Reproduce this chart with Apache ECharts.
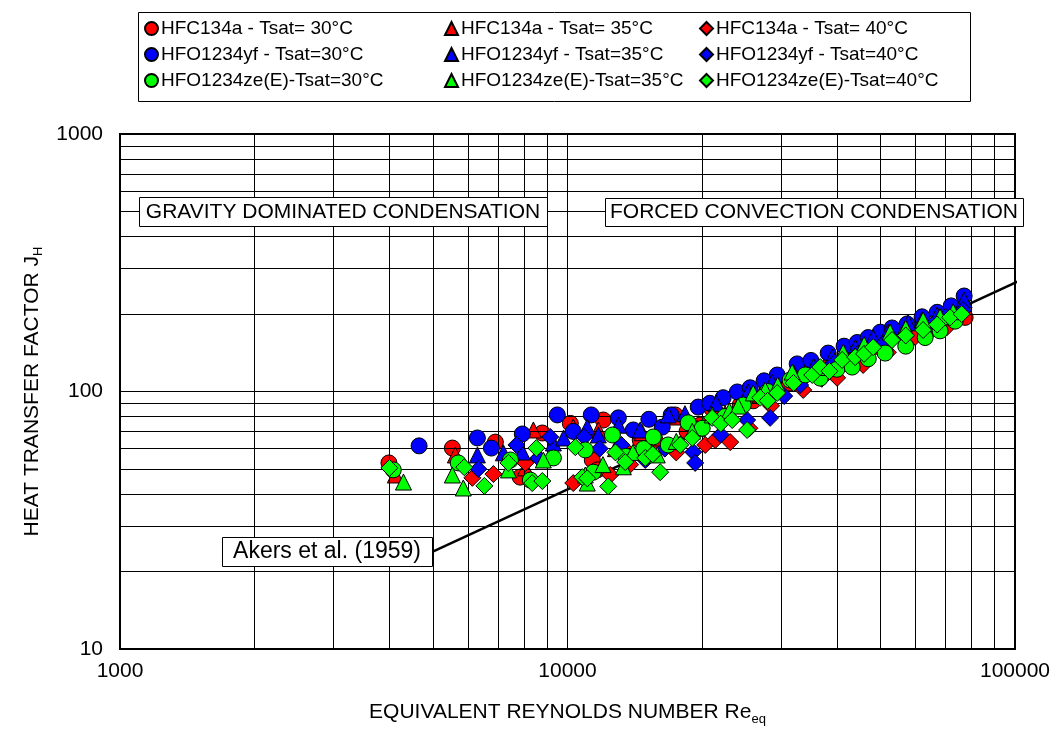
<!DOCTYPE html>
<html><head><meta charset="utf-8">
<script src="https://cdn.jsdelivr.net/npm/echarts@6/dist/echarts.min.js"></script>
<style>html,body{margin:0;padding:0;background:#fff}#c{width:1057px;height:738px}</style>
</head><body><div id="c"></div>
<script>
// ---------- tick / grid values ----------
const xMinor = [2000,3000,4000,5000,6000,7000,8000,9000,20000,30000,40000,50000,60000,70000,80000,90000];
const yMinor = [20,30,40,50,60,70,80,90,200,300,400,500,600,700,800,900];

// ---------- data [Re_eq, J_H] ----------
const r134a30 = [[3990,52.8],[5530,60.3],[6900,63.6],[7840,46.5],[8785,69],[10146,75.2],[11360,54.2],[12020,77.5],[11660,49.6],[13500,58],[14540,64.8],[15800,62],[17400,81.1],[18500,70],[19800,74.1],[21050,85.5],[22500,80],[24318,88.6],[26000,92],[29870,101],[33000,110],[38630,126.8],[43000,135],[51270,151.6],[58000,160],[63000,170],[68025,181],[77370,194]];
const r134a35 = [[4124,47.4],[5616,56.7],[8051,50.5],[8390,70.9],[10300,72.7],[11720,70.9],[12800,60],[14690,69.2],[16000,66],[17220,79.6],[19500,72],[22500,82],[26950,96.9],[30500,108],[34855,119],[38000,124],[45080,142],[50000,150],[59830,170],[64000,178],[71617,194]];
const r134a40 = [[6130,46.2],[6830,47.8],[8051,52.8],[10300,44.1],[12460,47.4],[13800,52],[15070,55.2],[17500,58],[20315,62],[21380,64.8],[23100,63.6],[25500,72],[28500,88],[33630,101.4],[34500,129],[37000,112],[40040,113],[45780,126.8],[52000,142],[59830,163],[64000,168],[70530,178]];
const yf30 = [[4660,61.5],[6290,66],[6760,60.3],[7925,68.4],[9490,81.1],[10300,70],[11300,81.1],[12990,79],[14030,70.9],[15200,78],[16280,72.7],[17050,81.1],[19590,87],[20800,90],[22280,94.6],[23960,99.6],[25600,103.4],[27500,110],[29420,115.9],[32600,128],[35000,132],[38240,141],[41500,150],[44400,155],[46970,162],[50000,170],[53130,176.5],[57420,183],[62000,195],[67000,203],[72000,215],[76980,234.9]];
const yf35 = [[6290,56.7],[7190,57.8],[7925,58.2],[9300,63.1],[9800,66],[11070,72.7],[11720,67.8],[13000,74],[14540,70.9],[16790,81.1],[18300,82],[21500,90],[25340,99.6],[28660,108.8],[32000,118],[35500,125],[39050,136],[44000,148],[48200,162],[52000,170],[57720,185],[62000,190],[67000,198],[76980,226.7]];
const yf40 = [[6320,50],[7690,62],[8610,55.2],[9150,66.6],[10900,66.6],[11800,60],[13200,62],[14920,54.2],[16500,60],[19100,58.2],[19290,52.8],[22000,68],[25200,77.5],[28370,79],[30500,96],[33100,106],[36000,118],[39640,130],[44500,140],[50500,152],[56200,162],[65300,181],[70000,195],[76570,207]];
const ze30 = [[4080,49.6],[5700,52.8],[7455,54.2],[8260,45.3],[9300,55.2],[10960,59.3],[11420,48.6],[12600,67.8],[13500,56],[14800,60],[15550,66.6],[16790,62],[18610,75.6],[20000,72],[22500,80],[24700,88.6],[28000,100],[31440,110.8],[34000,116],[36700,112.7],[40000,122],[43270,124.4],[47000,134],[51270,141],[57000,150],[62980,162],[68000,172],[73490,187.6]];
const ze35 = [[4300,44.5],[5530,47.4],[5850,42.2],[7380,49.6],[8830,54.2],[10960,47.4],[11070,44.1],[12000,52],[13330,51],[14000,58],[15870,56.7],[17500,64],[19000,70],[21050,81.1],[23000,84],[24060,87.8],[26000,98.7],[27660,101.4],[29500,106],[31770,119],[36500,124],[41310,142],[46000,152],[52600,170],[57000,176],[62330,189.5],[68000,195],[72740,204]];
const ze40 = [[4000,50.5],[5880,50.8],[6520,43],[7380,52.8],[8340,44.1],[8520,60.3],[8785,44.9],[10411,60.8],[10790,46.5],[11070,46],[12330,42.8],[12800,58],[13460,53.2],[14920,55.2],[15500,57],[16110,48.6],[17860,62],[19000,66],[21050,79],[22000,75],[23340,77.5],[25200,70.9],[26950,94.6],[28000,92],[29420,98.7],[32000,108],[35230,115.9],[36700,124.4],[38500,120],[41100,132.6],[43940,136],[46000,140],[48200,148.7],[53130,158.5],[57000,165],[62330,173.3],[67000,182],[71620,194],[76000,200]];
// Akers et al. (1959) correlation line end points
const akers = [[5000,23.9],[105000,275]];

const seriesDefs = [
  ['HFC134a - Tsat= 30°C', r134a30, 'circle', '#ff0000'],
  ['HFC134a - Tsat= 35°C', r134a35, 'triangle', '#ff0000'],
  ['HFC134a - Tsat= 40°C', r134a40, 'diamond', '#ff0000'],
  ['HFO1234yf - Tsat=30°C', yf30, 'circle', '#0000ff'],
  ['HFO1234yf - Tsat=35°C', yf35, 'triangle', '#0000ff'],
  ['HFO1234yf - Tsat=40°C', yf40, 'diamond', '#0000ff'],
  ['HFO1234ze(E)-Tsat=30°C', ze30, 'circle', '#00ff00'],
  ['HFO1234ze(E)-Tsat=35°C', ze35, 'triangle', '#00ff00'],
  ['HFO1234ze(E)-Tsat=40°C', ze40, 'diamond', '#00ff00']
];
const FONT = 'Liberation Sans, Arial, sans-serif';
const FS = 21;
const sizes = {circle:16, triangle:16, diamond:17};

const series = [
  {type:'scatter', name:'grid', data:[], silent:true, z:1,
   markLine:{silent:true, symbol:['none','none'], label:{show:false},
     lineStyle:{color:'#000', width:1, type:'solid'}, animation:false,
     data: xMinor.map(v=>({xAxis:v})).concat(yMinor.map(v=>({yAxis:v})))}},
  {type:'line', name:'Akers', data:akers, showSymbol:false, symbol:'none', clip:false, z:2,
   lineStyle:{color:'#000', width:2.5}, silent:true}
];
seriesDefs.forEach((d,i)=>{
  series.push({type:'scatter', name:d[0], data:d[1], symbol:d[2], symbolSize:sizes[d[2]], z:3+i,
    itemStyle:{color:d[3], borderColor:'#000', borderWidth:1, opacity:1}});
});

const legendCommon = {orient:'vertical', itemWidth:13, itemHeight:13, itemGap:7,
  textStyle:{fontSize:19, color:'#000', fontFamily:FONT, padding:[0,0,0,-2]}, selectedMode:false};
const plain = v => String(Math.round(v));
const subRich = {s:{fontSize:13, padding:[14,0,0,0], fontFamily:FONT, color:'#000'}};

const chart = echarts.init(document.getElementById('c'), null, {renderer:'canvas'});
chart.setOption({
  animation:false,
  backgroundColor:'#fff',
  grid:{left:120, right:42, top:134, bottom:89, show:true, borderColor:'#000', borderWidth:2, backgroundColor:'transparent'},
  xAxis:{type:'log', logBase:10, min:1000, max:100000,
    name:'EQUIVALENT REYNOLDS NUMBER Re{s|eq}', nameLocation:'middle', nameGap:50,
    nameTextStyle:{fontSize:FS, color:'#000', fontFamily:FONT, rich:subRich},
    axisLine:{lineStyle:{color:'#000', width:2}},
    axisTick:{show:true, inside:true, length:6, lineStyle:{color:'#000'}},
    axisLabel:{fontSize:FS, color:'#000', fontFamily:FONT, margin:12, formatter:plain},
    splitLine:{show:true, lineStyle:{color:'#000', width:1}}},
  yAxis:{type:'log', logBase:10, min:10, max:1000,
    name:'HEAT TRANSFER FACTOR J{s|H}', nameLocation:'middle', nameGap:74,
    nameTextStyle:{fontSize:FS, color:'#000', fontFamily:FONT, rich:subRich},
    axisLine:{lineStyle:{color:'#000', width:2}},
    axisTick:{show:true, inside:true, length:6, lineStyle:{color:'#000'}},
    axisLabel:{fontSize:FS, color:'#000', fontFamily:FONT, margin:17, formatter:plain},
    splitLine:{show:true, lineStyle:{color:'#000', width:1}}},
  legend:[
    Object.assign({left:139, top:14, data:[seriesDefs[0][0],seriesDefs[3][0],seriesDefs[6][0]]}, legendCommon),
    Object.assign({left:439, top:14, data:[seriesDefs[1][0],seriesDefs[4][0],seriesDefs[7][0]]}, legendCommon),
    Object.assign({left:694, top:14, data:[seriesDefs[2][0],seriesDefs[5][0],seriesDefs[8][0]]}, legendCommon)
  ],
  graphic:[
    {type:'rect', left:136, top:10, z:50, shape:{width:832, height:89}, style:{fill:'none', stroke:'#000', lineWidth:1}},
    {type:'rect', left:139, top:197, z:50, shape:{width:408, height:29}, style:{fill:'#fff', stroke:'#000', lineWidth:1}},
    {type:'text', z:51, x:343, y:212, style:{text:'GRAVITY DOMINATED CONDENSATION', fill:'#000', font:FS+'px '+FONT, textAlign:'center', textVerticalAlign:'middle'}},
    {type:'rect', left:605, top:198, z:50, shape:{width:418, height:28}, style:{fill:'#fff', stroke:'#000', lineWidth:1}},
    {type:'text', z:51, x:814, y:212, style:{text:'FORCED CONVECTION CONDENSATION', fill:'#000', font:FS+'px '+FONT, textAlign:'center', textVerticalAlign:'middle'}},
    {type:'rect', left:222, top:537, z:50, shape:{width:210, height:29}, style:{fill:'#fff', stroke:'#000', lineWidth:1}},
    {type:'text', z:51, x:327, y:552, style:{text:'Akers et al. (1959)', fill:'#000', font:'23px '+FONT, textAlign:'center', textVerticalAlign:'middle'}}
  ],
  series:series
});
</script></body></html>
